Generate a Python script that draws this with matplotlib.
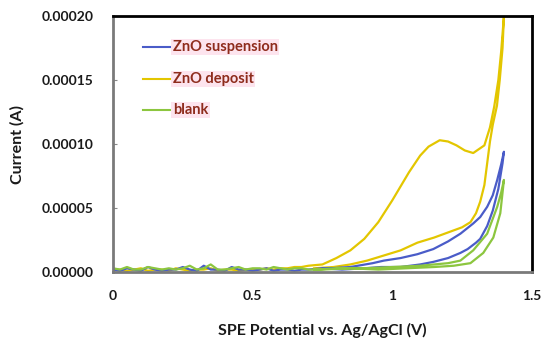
import matplotlib
matplotlib.use("Agg")
import matplotlib.pyplot as plt

plt.rcParams['font.family'] = ['Lato', 'DejaVu Sans']

# baseline region (V) and currents (x1e-5 A)
base_x = [0.000, 0.025, 0.050, 0.075, 0.100, 0.125, 0.150, 0.175, 0.200, 0.225,
          0.250, 0.275, 0.300, 0.325, 0.350, 0.375, 0.400, 0.425, 0.450, 0.475,
          0.500, 0.525, 0.550, 0.575, 0.600, 0.625, 0.650, 0.675, 0.700]
blue_base = [0.2, 0.1, 0.3, 0.2, 0.1, 0.4, 0.2, 0.1, 0.2, 0.2,
             0.4, 0.2, 0.1, 0.5, 0.2, 0.2, 0.1, 0.4, 0.2, 0.2,
             0.1, 0.2, 0.3, 0.1, 0.2, 0.2, 0.1, 0.2, 0.2]
yellow_base = [0.2, 0.2, 0.1, 0.2, 0.3, 0.1, 0.2, 0.2, 0.1, 0.3,
               0.2, 0.1, 0.2, 0.2, 0.3, 0.1, 0.2, 0.2, 0.1, 0.2,
               0.2, 0.2, 0.3, 0.2, 0.3, 0.3, 0.4, 0.4, 0.5]
green_base = [0.3, 0.2, 0.4, 0.2, 0.2, 0.4, 0.3, 0.2, 0.3, 0.2,
              0.3, 0.5, 0.2, 0.3, 0.6, 0.2, 0.2, 0.3, 0.4, 0.2,
              0.3, 0.3, 0.2, 0.4, 0.3, 0.2, 0.3, 0.3, 0.2]

# ZnO deposit: sweep with hump, then return branch
yel_fwd_x = [0.75, 0.80, 0.85, 0.90, 0.95, 1.00, 1.03, 1.06, 1.10, 1.13, 1.17,
             1.20, 1.23, 1.26, 1.29, 1.31, 1.33, 1.35, 1.365, 1.38, 1.39, 1.40]
yel_fwd_y = [0.6, 1.1, 1.7, 2.6, 3.9, 5.6, 6.7, 7.8, 9.1, 9.8, 10.3,
             10.2, 9.9, 9.5, 9.3, 9.6, 9.9, 11.3, 12.9, 15.0, 17.2, 20.0]
yel_rev_x = [1.395, 1.385, 1.375, 1.36, 1.35, 1.34, 1.33, 1.315, 1.30, 1.28,
             1.25, 1.20, 1.15, 1.09, 1.03, 0.97, 0.91, 0.85, 0.79, 0.72]
yel_rev_y = [17.5, 15.0, 13.0, 11.5, 10.2, 8.5, 6.8, 5.5, 4.6, 3.9,
             3.5, 3.1, 2.7, 2.3, 1.7, 1.3, 0.9, 0.6, 0.4, 0.3]

# ZnO suspension
blue_fwd_x = [0.75, 0.82, 0.90, 0.96, 1.03, 1.10, 1.147, 1.20, 1.244, 1.27,
              1.30, 1.315, 1.34, 1.36, 1.38, 1.395, 1.40]
blue_fwd_y = [0.3, 0.2, 0.3, 0.4, 0.4, 0.6, 0.8, 1.1, 1.5, 1.8,
              2.3, 2.6, 3.6, 4.8, 6.5, 8.5, 9.4]
blue_rev_x = [1.39, 1.376, 1.36, 1.34, 1.315, 1.29, 1.244, 1.20, 1.147, 1.09,
              1.03, 0.97, 0.93, 0.85, 0.78, 0.72]
blue_rev_y = [8.4, 7.2, 6.0, 5.1, 4.3, 3.8, 3.0, 2.4, 1.8, 1.4,
              1.1, 0.9, 0.7, 0.4, 0.3, 0.2]

# blank
green_fwd_x = [0.75, 0.85, 0.95, 1.05, 1.15, 1.22, 1.28, 1.326, 1.362, 1.387, 1.40]
green_fwd_y = [0.2, 0.3, 0.2, 0.3, 0.4, 0.5, 0.7, 1.5, 2.7, 4.6, 7.2]
green_rev_x = [1.39, 1.376, 1.34, 1.29, 1.244, 1.20, 1.10, 1.00, 0.90, 0.80, 0.72]
green_rev_y = [6.2, 5.1, 3.0, 1.7, 0.9, 0.7, 0.5, 0.4, 0.3, 0.3, 0.2]

blue = '#4a5cc8'
yellow = '#e3c600'
green = '#8cc63f'
text_red = '#8e2c1c'


def loop(bx, by, fx, fy, rx, ry):
    x = list(bx) + fx + rx
    y = list(by) + fy + ry
    return x, [v * 1e-5 for v in y]


fig = plt.figure(figsize=(5.5, 3.48), dpi=100)
ax = fig.add_axes([0.2055, 0.218, 0.7615, 0.736])

gx, gy = loop(base_x, green_base, green_fwd_x, green_fwd_y, green_rev_x, green_rev_y)
bx, by = loop(base_x, blue_base, blue_fwd_x, blue_fwd_y, blue_rev_x, blue_rev_y)
yx, yy = loop(base_x, yellow_base, yel_fwd_x, yel_fwd_y, yel_rev_x, yel_rev_y)
ax.plot(yx, yy, color=yellow, lw=1.6)
ax.plot(bx, by, color=blue, lw=1.6)
ax.plot(gx, gy, color=green, lw=1.6)

ax.set_xlim(0, 1.5)
ax.set_ylim(0, 0.0002)
ax.set_xticks([0, 0.5, 1, 1.5])
ax.set_xticklabels(['0', '0.5', '1', '1.5'])
ax.set_yticks([0, 0.00005, 0.0001, 0.00015, 0.0002])
ax.set_yticklabels(['0.00000', '0.00005', '0.00010', '0.00015', '0.00020'])
ax.tick_params(axis='x', length=0, pad=13, labelsize=10)
ax.tick_params(axis='y', length=3, direction='in', pad=14, labelsize=10, color='#888888')
for lab in ax.get_xticklabels() + ax.get_yticklabels():
    lab.set_fontweight('bold')
    lab.set_color('#1a1a1a')

for side in ['top', 'right']:
    ax.spines[side].set_color('black')
    ax.spines[side].set_linewidth(2)
for side in ['left', 'bottom']:
    ax.spines[side].set_color('#7a7a7a')
    ax.spines[side].set_linewidth(2)

ax.set_xlabel('SPE Potential vs. Ag/AgCl (V)', fontsize=11.5, fontweight='bold',
              labelpad=15, color='#1a1a1a')
ax.set_ylabel('Current (A)', fontsize=11.5, fontweight='bold', labelpad=12,
              color='#1a1a1a')

# hand-placed legend
legend_names = ['ZnO suspension', 'ZnO deposit', 'blank']
legend_colors = [blue, yellow, green]
legend_y = [0.879, 0.754, 0.633]
for name, c, ly in zip(legend_names, legend_colors, legend_y):
    ax.plot([0.072, 0.136], [ly, ly], color=c, lw=1.5, transform=ax.transAxes)
    ax.text(0.143, ly, name, transform=ax.transAxes, fontsize=10.5,
            fontweight='bold', color=text_red, va='center', ha='left',
            bbox=dict(boxstyle='square,pad=0.1', facecolor='#fde4ee',
                      edgecolor='none'))

fig.savefig('out.png', dpi=100)
